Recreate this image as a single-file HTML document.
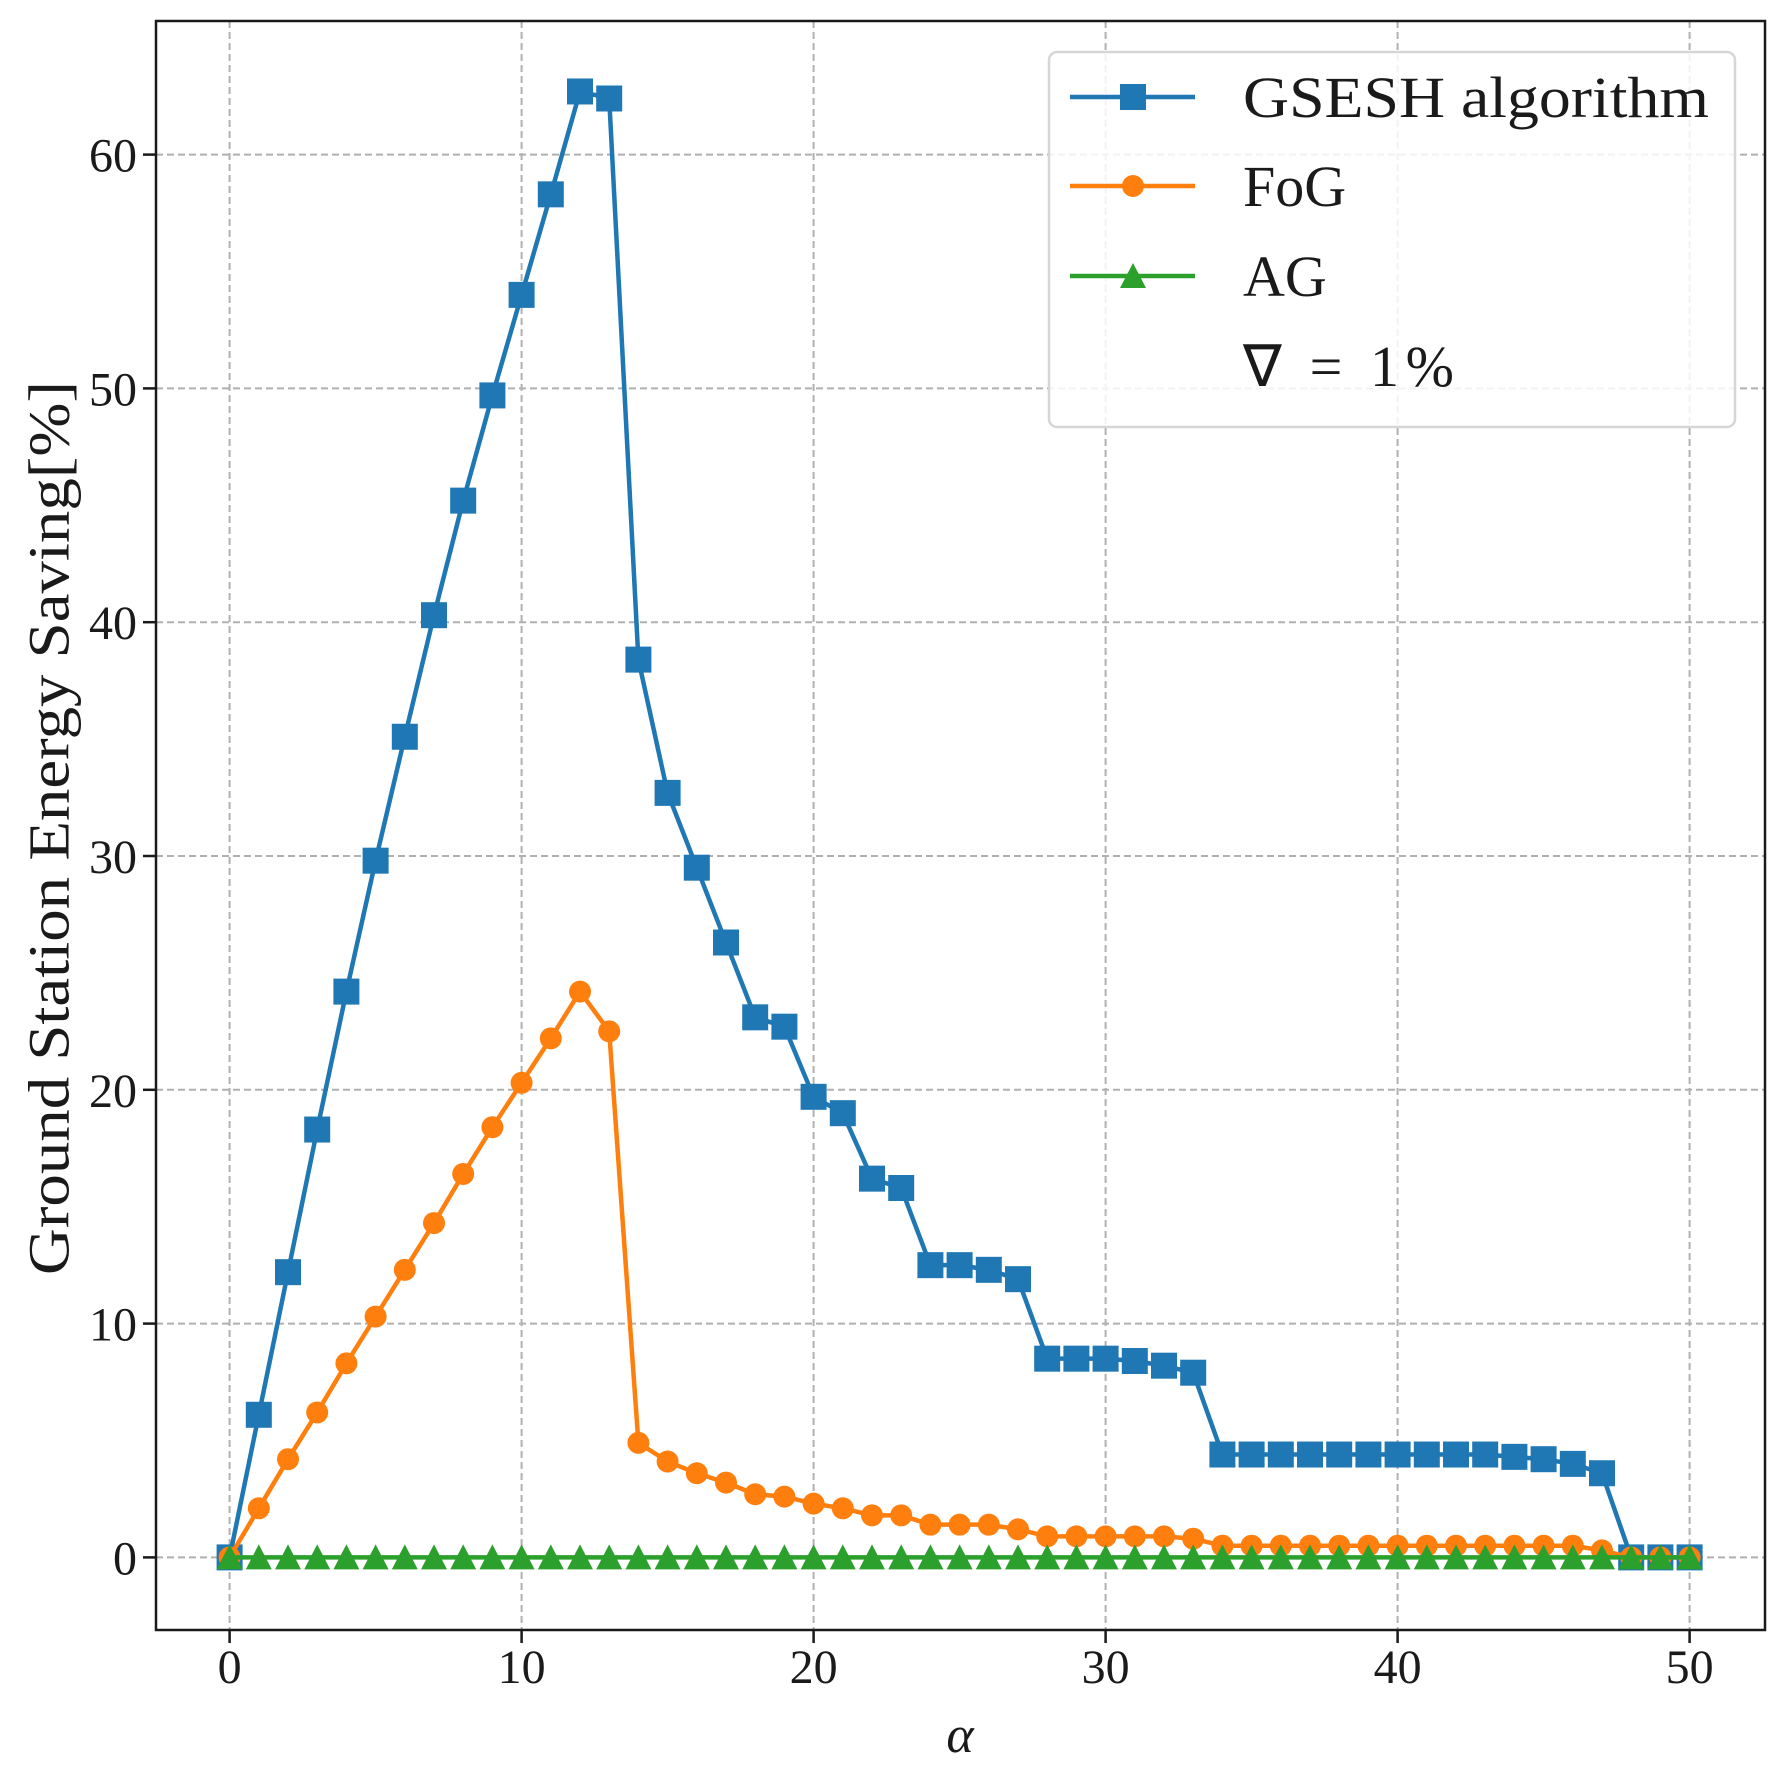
<!DOCTYPE html>
<html><head><meta charset="utf-8"><style>
html,body{margin:0;padding:0;background:#fff;}
svg{display:block;}
text{font-family:"Liberation Serif",serif;fill:#1a1a1a;}
</style></head><body>
<svg id="chart" width="1782" height="1766" viewBox="0 0 1782 1766">
<g id="grid"></g>
<g id="series"></g>
<rect x="156" y="21" width="1609" height="1609" fill="none" stroke="#1a1a1a" stroke-width="2.5"/>
<g id="ticks"></g>
<text x="49" y="828" transform="rotate(-90 49 828)" text-anchor="middle" dominant-baseline="central" font-size="58" textLength="894" lengthAdjust="spacingAndGlyphs">Ground Station Energy Saving[%]</text>
<text x="960" y="1752" text-anchor="middle" font-size="52" font-style="italic">α</text>
<g>
<rect x="1049" y="52" width="686" height="375" rx="8" fill="#fff" fill-opacity="0.85" stroke="#d6d6d6" stroke-width="2.5"/>
<g>
<line x1="1070" y1="97" x2="1195" y2="97" stroke="#1f77b4" stroke-width="4.5"/>
<rect x="1120" y="84" width="26" height="26" fill="#1f77b4"/>
<text x="1243" y="117" font-size="58" textLength="466" lengthAdjust="spacingAndGlyphs">GSESH algorithm</text></g>
<g>
<line x1="1070" y1="186" x2="1195" y2="186" stroke="#ff7f0e" stroke-width="4.5"/>
<circle cx="1133" cy="186" r="11" fill="#ff7f0e"/>
<text x="1243" y="206" font-size="58">FoG</text></g>
<g>
<line x1="1070" y1="276" x2="1195" y2="276" stroke="#2ca02c" stroke-width="4.5"/>
<polygon points="1133,263 1146,288 1120,288" fill="#2ca02c"/>
<text x="1243" y="296" font-size="58">AG</text></g>
<text x="1243" y="386" font-size="58" textLength="211" lengthAdjust="spacing">∇ = 1%</text>
</g>
</svg>
<script>
const xs = Array.from({length:51},(_, i)=>i);
const gsesh = [0,6.1,12.2,18.3,24.2,29.8,35.1,40.3,45.2,49.7,54.0,58.3,62.7,62.4,38.4,32.7,29.5,26.3,23.1,22.7,19.7,19.0,16.2,15.8,12.5,12.5,12.3,11.9,8.5,8.5,8.5,8.4,8.2,7.9,4.4,4.4,4.4,4.4,4.4,4.4,4.4,4.4,4.4,4.4,4.3,4.2,4.0,3.6,0,0,0];
const fog = [0,2.1,4.2,6.2,8.3,10.3,12.3,14.3,16.4,18.4,20.3,22.2,24.2,22.5,4.9,4.1,3.6,3.2,2.7,2.6,2.3,2.1,1.8,1.8,1.4,1.4,1.4,1.2,0.9,0.9,0.9,0.9,0.9,0.8,0.5,0.5,0.5,0.5,0.5,0.5,0.5,0.5,0.5,0.5,0.5,0.5,0.5,0.3,0,0,0];
const ag = xs.map(()=>0);
const xTicks = [0,10,20,30,40,50];
const yTicks = [0,10,20,30,40,50,60];

const NS = "http://www.w3.org/2000/svg";
const X = v => 229.6 + v*29.2;
const Y = v => 1557.4 - v*23.38;
function mk(tag, attrs, parent){const e=document.createElementNS(NS,tag);for(const k in attrs)e.setAttribute(k,attrs[k]);parent.appendChild(e);return e;}
const grid=document.getElementById('grid'), ticks=document.getElementById('ticks'), series=document.getElementById('series');

xTicks.forEach(t=>{
  const g=mk('line',{x1:X(t),x2:X(t),y1:21,y2:1630,stroke:'#b0b0b0','stroke-width':2,'stroke-dasharray':'7,4'},grid);
  
  
  const tk=mk('line',{x1:X(t),x2:X(t),y1:1630,y2:1643,stroke:'#1a1a1a','stroke-width':2.5},ticks);
  
  
  const tx=mk('text',{x:X(t),y:1683,'text-anchor':'middle','font-size':48},ticks);
  tx.textContent=t;
  
  
});
yTicks.forEach(t=>{
  const g=mk('line',{x1:156,x2:1765,y1:Y(t),y2:Y(t),stroke:'#b0b0b0','stroke-width':2,'stroke-dasharray':'7,4'},grid);
  
  
  const tk=mk('line',{x1:143,x2:156,y1:Y(t),y2:Y(t),stroke:'#1a1a1a','stroke-width':2.5},ticks);
  
  
  const tx=mk('text',{x:137,y:Y(t)+17,'text-anchor':'end','font-size':48},ticks);
  tx.textContent=t;
  
  
});

function draw(vals,color,marker,name){
  const g=mk('g',{},series);
  
  
  const pl=mk('polyline',{points:vals.map((v,i)=>X(xs[i])+','+Y(v)).join(' '),fill:'none',stroke:color,'stroke-width':4.5,'stroke-linejoin':'round'},g);
  
  
  vals.forEach((v,i)=>{
    const cx=X(xs[i]), cy=Y(v); let m;
    if(marker==='s') m=mk('rect',{x:cx-13,y:cy-13,width:26,height:26,fill:color},g);
    else if(marker==='o') m=mk('circle',{cx:cx,cy:cy,r:11,fill:color},g);
    else m=mk('polygon',{points:`${cx},${cy-13} ${cx+13},${cy+12} ${cx-13},${cy+12}`,fill:color},g);
    
    
  });
}
draw(gsesh,'#1f77b4','s','gsesh');
draw(fog,'#ff7f0e','o','fog');
draw(ag,'#2ca02c','^','ag');
</script>
</body></html>
